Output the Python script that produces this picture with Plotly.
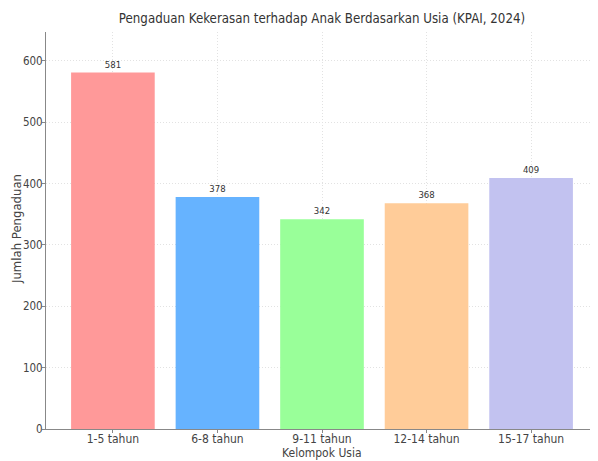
import plotly.graph_objects as go

categories = ["1-5 tahun", "6-8 tahun", "9-11 tahun", "12-14 tahun", "15-17 tahun"]
values = [581, 378, 342, 368, 409]
colors = ["#ff9999", "#66b3ff", "#99ff99", "#ffcc99", "#c2c2f0"]

FONT = "DejaVu Sans Condensed, DejaVu Sans, sans-serif"

W, H = 590, 453
L, R, T, B = 38, 0, 24, 32
PW, PH = W - L - R, H - T - B

fig = go.Figure()
fig.add_trace(go.Bar(
    x=categories, y=values, marker=dict(color=colors, line=dict(width=0)),
    width=0.8, text=[str(v) for v in values], textposition="outside",
    textfont=dict(size=9.5, color="#333333", family=FONT), cliponaxis=False,
))

fig.update_layout(
    width=W, height=H,
    margin=dict(l=L, r=R, t=T, b=B, autoexpand=False),
    plot_bgcolor="white", paper_bgcolor="white",
    font=dict(family=FONT, color="#444444", size=12),
    title=dict(text="Pengaduan Kekerasan terhadap Anak Berdasarkan Usia (KPAI, 2024)",
               x=314 / W, xanchor="center", y=1 - 10 / H, yanchor="middle",
               font=dict(size=13.2, color="#333333")),
    showlegend=False,
    bargap=0.2,
    annotations=[
        dict(text="Kelompok Usia", xref="paper", yref="paper", x=(322 - 8 - L) / PW,
             y=-24 / PH, xanchor="center", yanchor="middle", showarrow=False,
             font=dict(size=12, color="#444444")),
        dict(text="Jumlah Pengaduan", xref="paper", yref="paper", x=-(46 - 16) / PW,
             y=(429 - 229) / PH, xanchor="center", yanchor="middle",
             textangle=-90, showarrow=False, font=dict(size=13, color="#444444")),
    ],
)
fig.update_xaxes(
    range=[-0.64, 4.64], showline=True, linecolor="#888888", linewidth=1,
    ticks="outside", ticklen=3, tickcolor="#888888", automargin=False,
    ticklabelstandoff=-4,
    showgrid=True, gridcolor="#e2e2e2", griddash="1px,2px", gridwidth=1,
    tickfont=dict(size=12, color="#444444"),
)
fig.update_yaxes(
    range=[0, 647], dtick=100, showline=True, linecolor="#888888", linewidth=1,
    ticks="outside", ticklen=3, tickcolor="#888888", automargin=False,
    ticklabelstandoff=-3,
    showgrid=True, gridcolor="#e2e2e2", griddash="1px,2px", gridwidth=1,
    zeroline=False,
    tickfont=dict(size=11.5, color="#444444"),
)

fig.write_html("out.html")
